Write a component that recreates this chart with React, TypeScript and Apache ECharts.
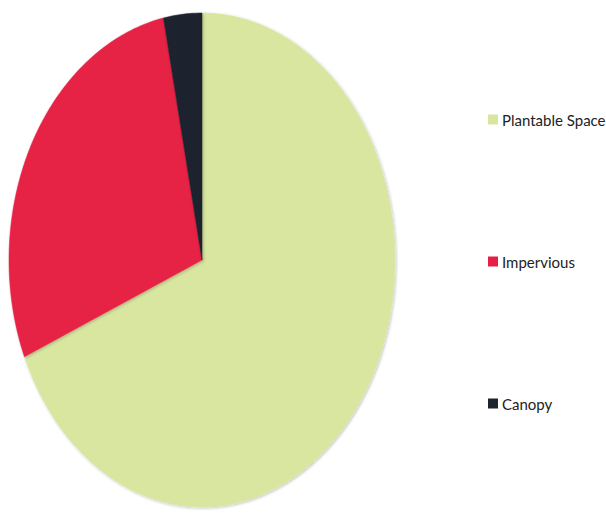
import React, { useEffect, useRef } from "react";
import * as echarts from "echarts";

const categories = ["Plantable Space", "Impervious", "Canopy"];
const values = [68.6, 28.2, 3.2];
const colors = ["#d9e6a0", "#e62045", "#1f232d"];

export default function App() {
  const ref = useRef<HTMLDivElement>(null);
  useEffect(() => {
    if (!ref.current) return;
    const chart = echarts.init(ref.current, null, { renderer: "svg" });
    const total = values.reduce((a, b) => a + b, 0);
    const cx = 202, cy = 260, rx = 193, ry = 247;
    const series = categories.map((name, i) => {
      const before = values.slice(0, i).reduce((a, b) => a + b, 0);
      return {
        type: "custom",
        name,
        coordinateSystem: "none",
        itemStyle: { color: colors[i] },
        data: [[values[i]]],
        renderItem: (params: any, api: any) => {
          const v = api.value(0);
          const a0 = (before / total) * Math.PI * 2;
          const a1 = ((before + v) / total) * Math.PI * 2;
          const n = Math.max(4, Math.ceil(((a1 - a0) / (Math.PI * 2)) * 360));
          const pts: number[][] = [[cx, cy]];
          for (let k = 0; k <= n; k++) {
            const a = a0 + ((a1 - a0) * k) / n;
            pts.push([cx + rx * Math.sin(a), cy - ry * Math.cos(a)]);
          }
          return {
            type: "polygon",
            shape: { points: pts },
            style: {
              fill: colors[i],
              stroke: colors[i],
              lineWidth: 0.5,
              shadowBlur: 3,
              shadowOffsetX: 1,
              shadowOffsetY: 1,
              shadowColor: "rgba(0,0,0,0.25)",
            },
          };
        },
      };
    });
    chart.setOption({
      animation: false,
      backgroundColor: "#ffffff",
      color: colors,
      legend: {
        orient: "vertical",
        left: 483,
        top: 107,
        itemWidth: 10,
        itemHeight: 10,
        itemGap: 127,
        icon: "rect",
        data: categories,
        textStyle: {
          fontFamily: "Lato",
          fontSize: 15,
          color: "#222222",
          padding: [0, 0, 0, -1],
        },
      },
      series,
    } as any);
    return () => chart.dispose();
  }, []);
  return (
    <div
      ref={ref}
      style={{ position: "absolute", left: 0, top: 0, width: 606, height: 513 }}
    />
  );
}
